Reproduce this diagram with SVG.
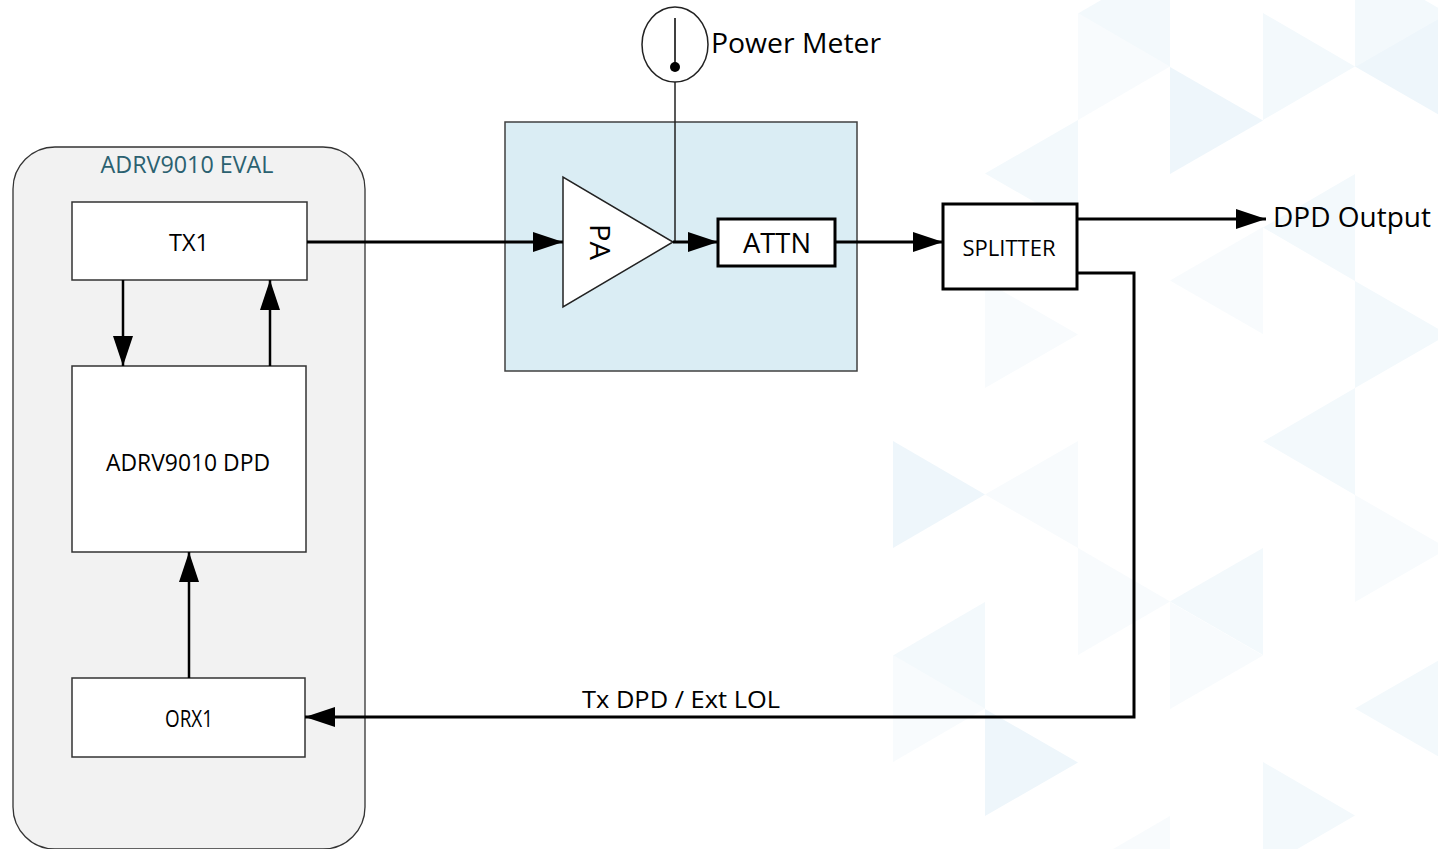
<svg xmlns="http://www.w3.org/2000/svg" width="1438" height="849" viewBox="0 0 1438 849">
  <style>
    .lbl { font-family: "Open Sans", "Liberation Sans", sans-serif; fill: #000; }
    .box { fill: #fff; stroke: #333; stroke-width: 1.5; }
    .tbox { fill: #fff; stroke: #000; stroke-width: 3; }
    .wire { fill: none; stroke: #000; stroke-width: 3; }
    .wire2 { fill: none; stroke: #000; stroke-width: 2.5; }
    .thin { fill: none; stroke: #222; stroke-width: 1.5; }
    .ta { fill: #eef6fb; }
    .tb { fill: #f3f9fc; }
    .tc { fill: #f8fbfd; }
  </style>
  <defs>
    <marker id="arr" markerUnits="userSpaceOnUse" markerWidth="30" markerHeight="20" refX="30" refY="10" orient="auto">
      <path d="M0,0 L30,10 L0,20 z" fill="#000"/>
    </marker>
  </defs>
  <rect x="0" y="0" width="1438" height="849" fill="#fff"/>
  <g id="background">
    <polygon class="tb" points="1170,-40 1170,67 1078,13.5"/>
    <polygon class="tc" points="1078,13 1078,120 1170,66.5"/>
    <polygon class="ta" points="1170,67 1170,174 1263,120.5"/>
    <polygon class="tb" points="1078,120 1078,227 985,173.5"/>
    <polygon class="tb" points="1355,174 1355,281 1263,227.5"/>
    <polygon class="tb" points="1263,13 1263,120 1355,66.5"/>
    <polygon class="ta" points="1448,13 1448,120 1355,66.5"/>
    <polygon class="tb" points="1355,-40 1355,67 1448,13.5"/>
    <polygon class="tc" points="1263,227 1263,334 1170,280.5"/>
    <polygon class="tb" points="1355,281 1355,388 1448,334.5"/>
    <polygon class="tc" points="985,281 985,388 1078,334.5"/>
    <polygon class="ta" points="893,441 893,548 985,494.5"/>
    <polygon class="tc" points="1078,441 1078,548 985,494.5"/>
    <polygon class="tc" points="1078,548 1078,655 1170,601.5"/>
    <polygon class="tb" points="1355,388 1355,495 1263,441.5"/>
    <polygon class="tc" points="1355,495 1355,602 1448,548.5"/>
    <polygon class="tb" points="1448,655 1448,762 1355,708.5"/>
    <polygon class="tb" points="1263,762 1263,869 1355,815.5"/>
    <polygon class="ta" points="985,709 985,816 1078,762.5"/>
    <polygon class="tb" points="985,602 985,709 893,655.5"/>
    <polygon class="tc" points="1170,816 1170,923 1078,869.5"/>
    <polygon class="tc" points="1170,602 1170,709 1263,655.5"/>
    <polygon class="tb" points="1263,548 1263,655 1170,601.5"/>
    <polygon class="tc" points="893,655 893,762 985,708.5"/>
  </g>

  <g id="eval">
    <rect x="13" y="147" width="352" height="702" rx="42" ry="42" fill="#f2f2f2" stroke="#333" stroke-width="1.3"/>
    <text x="187" y="173" text-anchor="middle" font-family="'Open Sans', 'Liberation Sans', sans-serif" font-size="23" fill="#2b6170" textLength="173" lengthAdjust="spacingAndGlyphs">ADRV9010 EVAL</text>
  </g>

  <g id="tx1">
    <rect class="box" x="72" y="202" width="235" height="78"/>
    <text class="lbl" x="189" y="251" text-anchor="middle" font-size="24" textLength="40" lengthAdjust="spacingAndGlyphs">TX1</text>
  </g>

  <g id="dpd">
    <rect class="box" x="72" y="366" width="234" height="186"/>
    <text class="lbl" x="188" y="471" text-anchor="middle" font-size="24" textLength="164" lengthAdjust="spacingAndGlyphs">ADRV9010 DPD</text>
  </g>

  <g id="orx1">
    <rect class="box" x="72" y="678" width="233" height="79"/>
    <text class="lbl" x="189" y="727" text-anchor="middle" font-size="24" textLength="48" lengthAdjust="spacingAndGlyphs">ORX1</text>
  </g>

  <g id="pa-block">
    <rect x="505" y="122" width="352" height="249" fill="#daedf4" stroke="#404040" stroke-width="1.5"/>
  </g>

  <g id="power-meter">
    <ellipse cx="675" cy="44.5" rx="33" ry="37.5" fill="#fff" stroke="#222" stroke-width="1.5"/>
    <line x1="675" y1="18" x2="675" y2="66" stroke="#000" stroke-width="1.5"/>
    <circle cx="675" cy="67" r="5" fill="#000"/>
    <text class="lbl" x="711" y="53" font-size="27" textLength="170" lengthAdjust="spacingAndGlyphs">Power Meter</text>
  </g>

  <g id="pa">
    <polygon points="563,177 563,307 673,242" fill="#fff" stroke="#222" stroke-width="1.5"/>
    <text class="lbl" x="0" y="0" font-size="27" text-anchor="middle" transform="translate(590,242) rotate(90)" textLength="36" lengthAdjust="spacingAndGlyphs">PA</text>
  </g>

  <g id="attn">
    <rect class="tbox" x="718" y="219" width="117" height="47"/>
    <text class="lbl" x="777" y="253" text-anchor="middle" font-size="27" textLength="68" lengthAdjust="spacingAndGlyphs">ATTN</text>
  </g>

  <g id="splitter">
    <rect class="tbox" x="943" y="204" width="134" height="85"/>
    <text class="lbl" x="1009" y="256" text-anchor="middle" font-size="22" textLength="93" lengthAdjust="spacingAndGlyphs">SPLITTER</text>
  </g>

  <g id="dpd-output">
    <text class="lbl" x="1273" y="227" font-size="27" textLength="158" lengthAdjust="spacingAndGlyphs">DPD Output</text>
  </g>

  <g id="connectors">
    <line class="wire2" x1="123" y1="280" x2="123" y2="366" marker-end="url(#arr)"/>
    <line class="wire2" x1="270" y1="366" x2="270" y2="280" marker-end="url(#arr)"/>
    <line class="wire2" x1="189" y1="678" x2="189" y2="552" marker-end="url(#arr)"/>
    <line class="wire" x1="307" y1="242" x2="563" y2="242" marker-end="url(#arr)"/>
    <line class="thin" x1="675" y1="82" x2="675" y2="242"/>
    <line class="wire" x1="673" y1="242" x2="718" y2="242" marker-end="url(#arr)"/>
    <line class="wire" x1="835" y1="242" x2="943" y2="242" marker-end="url(#arr)"/>
    <line class="wire" x1="1077" y1="219" x2="1266" y2="219" marker-end="url(#arr)"/>
    <polyline class="wire" points="1077,273 1134,273 1134,717 305,717" marker-end="url(#arr)"/>
    <text class="lbl" x="582" y="708" font-size="24" textLength="198" lengthAdjust="spacingAndGlyphs">Tx DPD / Ext LOL</text>
  </g>
</svg>
